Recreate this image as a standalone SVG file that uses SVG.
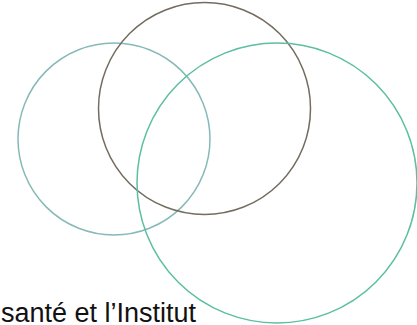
<svg xmlns="http://www.w3.org/2000/svg" width="417" height="325" viewBox="0 0 417 325">
<style>
.c{fill:none;stroke-width:1.5}
.t{font-family:"Liberation Sans",Arial,sans-serif;font-size:27px;fill:#111}
</style>
<rect width="417" height="325" fill="#fff"/>
<g id="circle-left"><circle class="c" cx="114" cy="139" r="96" stroke="#86b9b8"/></g>
<g id="circle-top"><circle class="c" cx="204.5" cy="108.5" r="106" stroke="#746c60"/></g>
<g id="circle-right"><circle class="c" cx="277" cy="183" r="140" stroke="#5cbea2"/></g>
<g id="connectors"></g>
<text class="t" x="1" y="322">santé et l’Institut</text>
</svg>
